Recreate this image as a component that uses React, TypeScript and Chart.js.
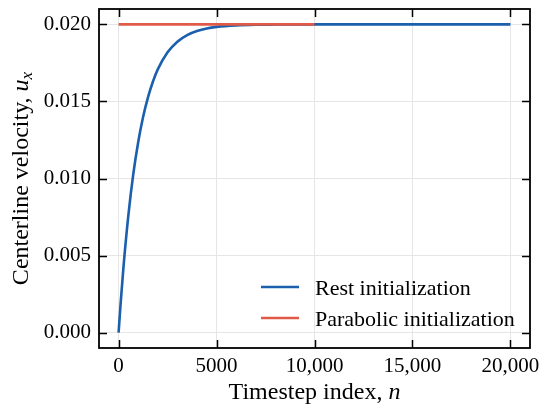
import React, { useEffect, useRef } from 'react';
import { Chart, registerables } from 'chart.js';

Chart.register(...registerables);

// ---- data ----
const restSteps = [0, 100, 250, 500, 750, 1000, 1250, 1500, 1750, 2000, 2500, 3000, 3500, 4000, 4500, 5000, 6000, 7000, 8000, 10000, 15000, 20000];
const restVelocity = [0, 0.00183, 0.00427, 0.00763, 0.01028, 0.01235, 0.01399, 0.01527, 0.01628, 0.01708, 0.01819, 0.01888, 0.01931, 0.01957, 0.01974, 0.01984, 0.01994, 0.01998, 0.01999, 0.02, 0.02, 0.02];
const parabolicSteps = [0, 2500, 5000, 7500, 10000];
const parabolicVelocity = [0.02, 0.02, 0.02, 0.02, 0.02];

const xTicks = [0, 5000, 10000, 15000, 20000];
const yTicks = [0, 0.005, 0.01, 0.015, 0.02];
const seriesLabels = ['Rest initialization', 'Parabolic initialization'];
const seriesColors = ['#1b5fad', '#e05a47'];

const FONT = '"Liberation Serif", "Times New Roman", serif';

const framePlugin = {
  id: 'framePlugin',
  afterDraw(chart: any) {
    const { ctx, chartArea: a, scales } = chart;
    ctx.save();
    // frame
    ctx.strokeStyle = '#000';
    ctx.lineWidth = 1.8;
    ctx.strokeRect(a.left, a.top, a.right - a.left, a.bottom - a.top);
    // inward ticks on all sides
    ctx.lineWidth = 1.5;
    ctx.beginPath();
    const tl = 8;
    for (const v of xTicks) {
      const px = Math.round(scales.x.getPixelForValue(v)) + 0.5;
      ctx.moveTo(px, a.bottom); ctx.lineTo(px, a.bottom - tl);
      ctx.moveTo(px, a.top); ctx.lineTo(px, a.top + tl);
    }
    for (const v of yTicks) {
      const py = Math.round(scales.y.getPixelForValue(v)) + 0.5;
      ctx.moveTo(a.left, py); ctx.lineTo(a.left + tl, py);
      ctx.moveTo(a.right, py); ctx.lineTo(a.right - tl, py);
    }
    ctx.stroke();

    // legend
    ctx.font = `22px ${FONT}`;
    ctx.textBaseline = 'alphabetic';
    ctx.textAlign = 'left';
    seriesLabels.forEach((lab, i) => {
      const yc = 287 + i * 31;
      ctx.strokeStyle = seriesColors[i];
      ctx.lineWidth = 2.6;
      ctx.beginPath();
      ctx.moveTo(261, yc);
      ctx.lineTo(299, yc);
      ctx.stroke();
      ctx.fillStyle = '#000';
      ctx.fillText(lab, 315, yc + 8);
    });

    // x title
    ctx.fillStyle = '#000';
    const xs1 = 'Timestep index, ';
    const xs2 = 'n';
    ctx.font = `24px ${FONT}`;
    const w1 = ctx.measureText(xs1).width;
    ctx.font = `italic 24px ${FONT}`;
    const w2 = ctx.measureText(xs2).width;
    const cx = (a.left + a.right) / 2;
    const x0 = cx - (w1 + w2) / 2;
    ctx.font = `24px ${FONT}`;
    ctx.fillText(xs1, x0, 398.5);
    ctx.font = `italic 24px ${FONT}`;
    ctx.fillText(xs2, x0 + w1, 398.5);

    // y title
    const ys1 = 'Centerline velocity, ';
    const ys2 = 'u';
    const ys3 = 'x';
    ctx.font = `24px ${FONT}`;
    const v1 = ctx.measureText(ys1).width;
    ctx.font = `italic 24px ${FONT}`;
    const v2 = ctx.measureText(ys2).width;
    ctx.font = `italic 17px ${FONT}`;
    const v3 = ctx.measureText(ys3).width;
    ctx.translate(28, (a.top + a.bottom) / 2);
    ctx.rotate(-Math.PI / 2);
    const y0 = -(v1 + v2 + v3) / 2;
    ctx.font = `24px ${FONT}`;
    ctx.fillText(ys1, y0, 0);
    ctx.font = `italic 24px ${FONT}`;
    ctx.fillText(ys2, y0 + v1, 0);
    ctx.font = `italic 17px ${FONT}`;
    ctx.fillText(ys3, y0 + v1 + v2, 4);
    ctx.restore();
  },
};

export default function App() {
  const ref = useRef<HTMLCanvasElement | null>(null);
  useEffect(() => {
    if (!ref.current) return;
    const chart = new Chart(ref.current, {
      type: 'line',
      data: {
        datasets: [
          {
            label: seriesLabels[1],
            data: parabolicSteps.map((n, i) => ({ x: n, y: parabolicVelocity[i] })),
            borderColor: seriesColors[1],
            borderWidth: 2.6,
            pointRadius: 0,
            fill: false,
          },
          {
            label: seriesLabels[0],
            data: restSteps.map((n, i) => ({ x: n, y: restVelocity[i] })),
            borderColor: seriesColors[0],
            borderWidth: 2.6,
            pointRadius: 0,
            fill: false,
            cubicInterpolationMode: 'monotone',
          },
        ],
      },
      options: {
        animation: false,
        responsive: true,
        maintainAspectRatio: false,
        layout: { padding: { top: 9, right: 20, left: 0, bottom: 0 } },
        plugins: { legend: { display: false }, tooltip: { enabled: false } },
        scales: {
          x: {
            type: 'linear',
            min: -1000,
            max: 21000,
            afterBuildTicks: (s: any) => { s.ticks = xTicks.map((v) => ({ value: v })); },
            afterFit: (s: any) => { s.height = 63; s.paddingLeft = 0; s.paddingRight = 0; },
            ticks: {
              color: '#000',
              font: { family: FONT, size: 21 },
              padding: 6,
              maxRotation: 0,
              autoSkip: false,
              callback: (v: any) => (Number(v) < 10000 ? String(v) : Number(v).toLocaleString('en-US')),
            },
            grid: { color: '#e6e6e6', lineWidth: 1, drawTicks: false },
            border: { display: false },
          },
          y: {
            type: 'linear',
            min: -0.001,
            max: 0.021,
            afterBuildTicks: (s: any) => { s.ticks = yTicks.map((v) => ({ value: v })); },
            afterFit: (s: any) => { s.width = 99; s.paddingTop = 0; s.paddingBottom = 0; },
            ticks: {
              color: '#000',
              font: { family: FONT, size: 21 },
              padding: 8,
              autoSkip: false,
              callback: (v: any) => Number(v).toFixed(3),
            },
            grid: { color: '#e6e6e6', lineWidth: 1, drawTicks: false },
            border: { display: false },
          },
        },
      },
      plugins: [framePlugin],
    } as any);
    return () => chart.destroy();
  }, []);
  return (
    <div style={{ position: 'absolute', left: 0, top: 0, width: 550, height: 411, background: '#fff' }}>
      <canvas ref={ref} />
    </div>
  );
}
